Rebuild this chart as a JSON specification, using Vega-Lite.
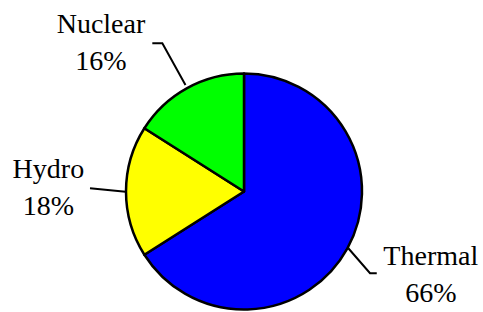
{
  "$schema": "https://vega.github.io/schema/vega-lite/v6.json",
  "width": 483,
  "height": 312,
  "autosize": {"type": "fit", "contains": "padding"},
  "padding": 0,
  "background": "white",
  "config": {"view": {"stroke": null}},
  "datasets": {
    "slices": [
      {"name": "Thermal", "pct": 66, "ord": 1, "cx": 0, "cy": 0},
      {"name": "Hydro", "pct": 18, "ord": 2, "cx": 0, "cy": 0},
      {"name": "Nuclear", "pct": 16, "ord": 3, "cx": 0, "cy": 0}
    ],
    "labels": [
      {"name": "Nuclear", "label": "Nuclear\n16%", "u": -1.212, "v": 1.341},
      {"name": "Hydro", "label": "Hydro\n18%", "u": -1.658, "v": 0.112},
      {"name": "Thermal", "label": "Thermal\n66%", "u": 1.583, "v": -0.623}
    ],
    "leaders": [
      {"name": "Nuclear", "seq": 1, "u": -0.777, "v": 1.256},
      {"name": "Nuclear", "seq": 2, "u": -0.692, "v": 1.256},
      {"name": "Nuclear", "seq": 3, "u": -0.496, "v": 0.903},
      {"name": "Hydro", "seq": 1, "u": -1.305, "v": 0.027},
      {"name": "Hydro", "seq": 2, "u": -1.004, "v": -0.002},
      {"name": "Thermal", "seq": 1, "u": 0.884, "v": -0.481},
      {"name": "Thermal", "seq": 2, "u": 1.068, "v": -0.693},
      {"name": "Thermal", "seq": 3, "u": 1.125, "v": -0.693}
    ]
  },
  "layer": [
    {
      "data": {"name": "leaders"},
      "mark": {"type": "line", "color": "black", "strokeWidth": 2, "strokeJoin": "miter"},
      "encoding": {
        "x": {"field": "u", "type": "quantitative", "scale": {"domain": [-2.0678, 2.0254], "nice": false, "zero": false}, "axis": null},
        "y": {"field": "v", "type": "quantitative", "scale": {"domain": [-1.0212, 1.6229], "nice": false, "zero": false}, "axis": null},
        "detail": {"field": "name"},
        "order": {"field": "seq"}
      }
    },
    {
      "data": {"name": "slices"},
      "mark": {"type": "arc", "outerRadius": 118, "stroke": "black", "strokeWidth": 2.5, "strokeJoin": "round"},
      "encoding": {
        "x": {"field": "cx", "type": "quantitative"},
        "y": {"field": "cy", "type": "quantitative"},
        "theta": {"field": "pct", "type": "quantitative", "stack": true},
        "order": {"field": "ord"},
        "color": {
          "field": "name",
          "type": "nominal",
          "scale": {"domain": ["Thermal", "Hydro", "Nuclear"], "range": ["#0000FF", "#FFFF00", "#00FF00"]},
          "legend": null
        }
      }
    },
    {
      "data": {"name": "labels"},
      "mark": {"type": "text", "font": "Liberation Serif", "fontSize": 28, "lineBreak": "\n", "lineHeight": 37, "align": "center", "baseline": "alphabetic", "color": "black"},
      "encoding": {
        "x": {"field": "u", "type": "quantitative"},
        "y": {"field": "v", "type": "quantitative"},
        "text": {"field": "label", "type": "nominal"}
      }
    }
  ]
}
